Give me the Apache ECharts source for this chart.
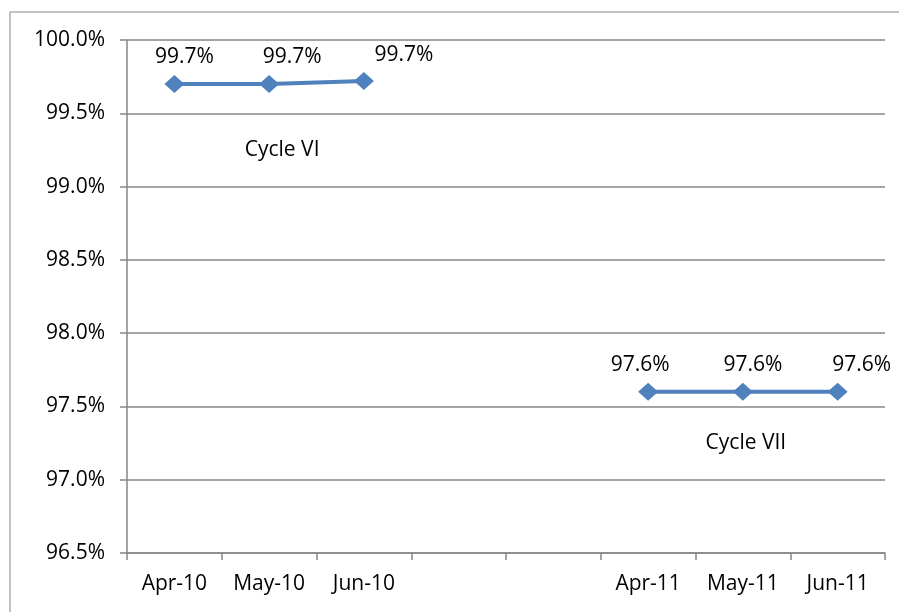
<!DOCTYPE html>
<html>
<head>
<meta charset="utf-8">
<script src="https://cdn.jsdelivr.net/npm/echarts@6/dist/echarts.min.js"></script>
<style>
  html, body { margin: 0; padding: 0; background: #fff; }
  #main { width: 899px; height: 612px; }
</style>
</head>
<body>
<div id="main"></div>
<script>
// categories (two empty slots between the cycles)
var categories = ['Apr-10', 'May-10', 'Jun-10', '', ' ', 'Apr-11', 'May-11', 'Jun-11'];
var cycleVI = [99.7, 99.7, 99.72, '-', '-', '-', '-', '-'];
var cycleVII = ['-', '-', '-', '-', '-', 97.6, 97.6, 97.6];
var yTicks = { min: 96.5, max: 100, step: 0.5 };
var cycleNames = ['Cycle VI', 'Cycle VII'];

var font = '"Open Sans", "Liberation Sans", sans-serif';
var fs = 21;
var grey = '#868686';
var blue = '#4F81BD';

// label nudges, like the hand placed ones in the original
var offsVI = [[10, 0], [23, 0], [40, 0]];
var offsVII = [[-8, 0], [10, 0], [24, 0]];

function pct(v) { return Number(v).toFixed(1) + '%'; }

function withLabels(values, offs, start) {
  return values.map(function (v, i) {
    if (v === '-') return v;
    var o = offs[i - start] || [0, 0];
    return { value: v, label: { offset: o } };
  });
}

function lineSeries(name, values, offs, start, note) {
  return {
    name: name,
    type: 'line',
    data: withLabels(values, offs, start),
    symbol: 'diamond',
    symbolSize: [20, 18],
    lineStyle: { color: blue, width: 4 },
    itemStyle: { color: blue },
    label: {
      show: true,
      position: 'top',
      distance: 7,
      color: '#000',
      fontFamily: font,
      fontSize: fs,
      formatter: function (p) { return pct(p.value); }
    },
    markPoint: {
      symbol: 'circle',
      symbolSize: 0,
      data: [{ coord: note.coord, value: name }],
      label: {
        show: true,
        position: 'inside',
        offset: note.offset,
        color: '#000',
        fontFamily: font,
        fontSize: fs,
        formatter: name
      }
    }
  };
}

var chart = echarts.init(document.getElementById('main'));
chart.setOption({
  animation: false,
  grid: { left: 127, right: 14, top: 40, bottom: 59 },
  graphic: [{
    type: 'rect',
    shape: { x: 10, y: 12, width: 900, height: 620 },
    style: { fill: 'none', stroke: grey, lineWidth: 1 },
    silent: true
  }],
  xAxis: {
    type: 'category',
    data: categories,
    boundaryGap: true,
    axisLine: { lineStyle: { color: grey, width: 1.5 } },
    axisTick: { show: true, length: 7, interval: 0, lineStyle: { color: grey, width: 1.5 } },
    axisLabel: { interval: 0, margin: 21, color: '#000', fontFamily: font, fontSize: fs },
    splitLine: { show: false }
  },
  yAxis: {
    type: 'value',
    min: yTicks.min,
    max: yTicks.max,
    interval: yTicks.step,
    axisLine: { show: true, lineStyle: { color: grey, width: 1.5 } },
    axisTick: { show: true, length: 7, lineStyle: { color: grey, width: 1.5 } },
    axisLabel: { margin: 22, color: '#000', fontFamily: font, fontSize: fs, formatter: pct },
    splitLine: { lineStyle: { color: grey, width: 1.5 } }
  },
  series: [
    lineSeries(cycleNames[0], cycleVI, offsVI, 0, { coord: ['May-10', 99.25], offset: [13, 0] }),
    lineSeries(cycleNames[1], cycleVII, offsVII, 5, { coord: ['May-11', 97.25], offset: [3, 0] })
  ]
});
</script>
</body>
</html>
